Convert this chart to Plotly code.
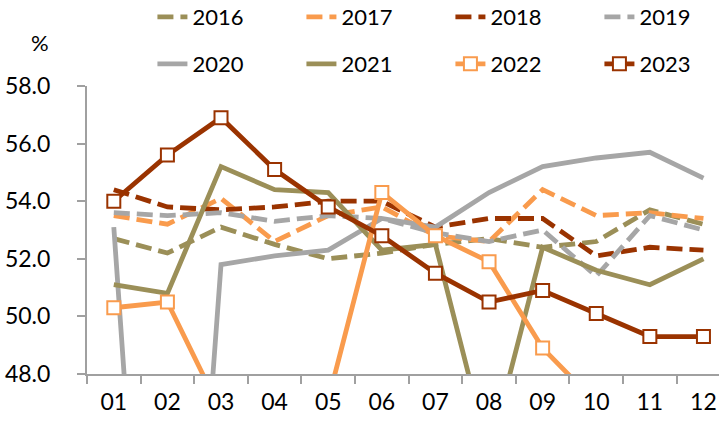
import plotly.graph_objects as go

months = ["01", "02", "03", "04", "05", "06", "07", "08", "09", "10", "11", "12"]
v2016 = [52.7, 52.2, 53.1, 52.5, 52.0, 52.2, 52.5, 52.7, 52.4, 52.6, 53.7, 53.2]
v2017 = [53.5, 53.2, 54.1, 52.6, 53.5, 53.8, 52.8, 52.6, 54.4, 53.5, 53.6, 53.4]
v2018 = [54.4, 53.8, 53.7, 53.8, 54.0, 54.0, 53.1, 53.4, 53.4, 52.1, 52.4, 52.3]
v2019 = [53.6, 53.5, 53.6, 53.3, 53.5, 53.4, 52.9, 52.6, 53.0, 51.4, 53.5, 53.0]
v2020 = [53.1, 26.5, 51.8, 52.1, 52.3, 53.4, 53.1, 54.3, 55.2, 55.5, 55.7, 54.8]
v2021 = [51.1, 50.8, 55.2, 54.4, 54.3, 52.3, 52.5, 45.2, 52.4, 51.6, 51.1, 52.0]
v2022 = [50.3, 50.5, 46.7, 40.0, 47.1, 54.3, 52.8, 51.9, 48.9, 47.0, 45.1, 39.4]
v2023 = [54.0, 55.6, 56.9, 55.1, 53.8, 52.8, 51.5, 50.5, 50.9, 50.1, 49.3, 49.3]

OLIVE = "#9B8F58"
ORANGE = "#F99B4D"
DARKRED = "#9A3300"
GRAY = "#A6A6A6"
DASH = "16px,7px"
LW = 4.8
FONT = "Lato, Carlito, 'Open Sans', sans-serif"

series = [
    ("2016", v2016, OLIVE, DASH, False, "legend"),
    ("2017", v2017, ORANGE, DASH, False, "legend"),
    ("2018", v2018, DARKRED, DASH, False, "legend"),
    ("2019", v2019, GRAY, DASH, False, "legend"),
    ("2020", v2020, GRAY, "solid", False, "legend2"),
    ("2021", v2021, OLIVE, "solid", False, "legend2"),
    ("2022", v2022, ORANGE, "solid", True, "legend2"),
    ("2023", v2023, DARKRED, "solid", True, "legend2"),
]

fig = go.Figure()
for name, vals, color, dash, mk, lg in series:
    fig.add_trace(go.Scatter(
        x=months, y=vals, name=name,
        mode="lines+markers" if mk else "lines",
        line=dict(color=color, width=LW, dash=dash),
        marker=dict(symbol="square", size=13, color="white",
                    line=dict(color=color, width=2)) if mk else None,
        legend=lg,
    ))

axis_color = "#A0A0A0"
leg_common = dict(orientation="h", xref="container", yref="container",
                  xanchor="left", yanchor="middle",
                  entrywidth=104, entrywidthmode="pixels",
                  font=dict(size=22), bgcolor="rgba(0,0,0,0)", traceorder="normal")
fig.update_layout(
    width=719, height=423,
    margin=dict(l=87, r=0, t=86, b=49, autoexpand=False),
    plot_bgcolor="white", paper_bgcolor="white",
    font=dict(family=FONT, size=23, color="#000000"),
    xaxis=dict(type="category", range=[-0.5, 11.29], showgrid=False,
               showline=True, linecolor=axis_color, linewidth=2,
               ticks="outside", tickson="boundaries", ticklen=8,
               tickcolor=axis_color, tickwidth=1.5,
               ticklabelstandoff=6, tickfont=dict(size=23)),
    yaxis=dict(range=[48, 58], dtick=2, tickformat=".1f", showgrid=False,
               zeroline=False, showline=True, linecolor=axis_color, linewidth=2,
               ticks="outside", ticklen=8, tickcolor=axis_color, tickwidth=1.5,
               ticklabelstandoff=22, tickfont=dict(size=23)),
    legend=dict(x=0.212, y=1 - 17 / 423, **leg_common),
    legend2=dict(x=0.212, y=1 - 64 / 423, **leg_common),
    showlegend=True,
    annotations=[dict(text="%", xref="paper", yref="paper", x=-0.074,
                      y=(374 - 43) / 288, xanchor="center", yanchor="middle",
                      showarrow=False, font=dict(size=22))],
)

fig.write_html("out.html", config={"displayModeBar": False},
               post_script="document.body.style.margin='0';document.body.style.padding='0';")
